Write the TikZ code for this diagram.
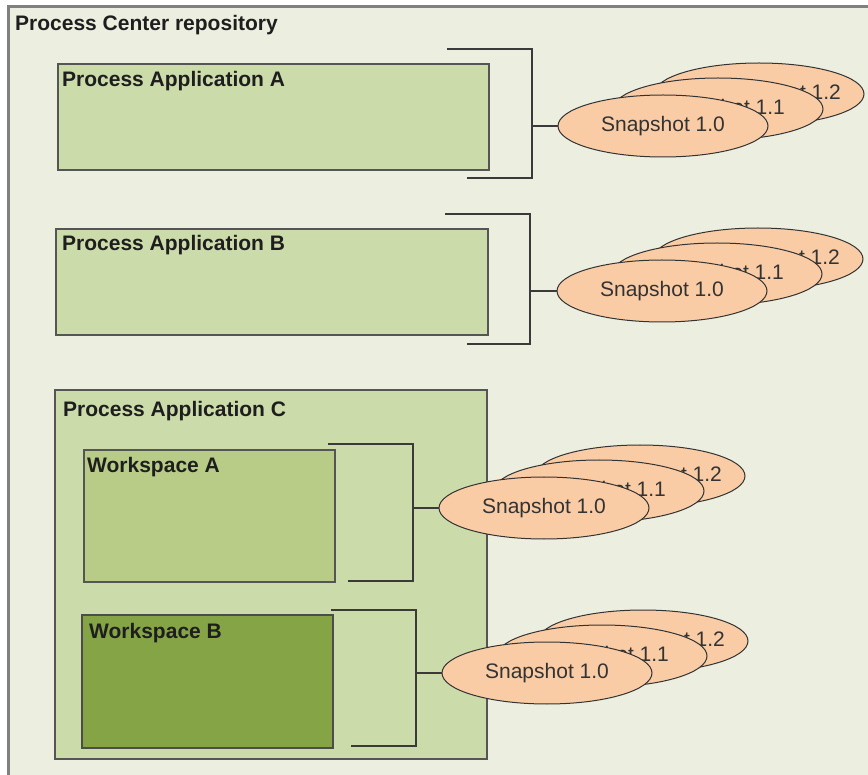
\documentclass[tikz,border=0pt]{standalone}
\usepackage{fontspec}
\setmainfont{Liberation Sans}
\usetikzlibrary{shapes.geometric}
\definecolor{bgc}{HTML}{ECEFDF}
\definecolor{pafill}{HTML}{CCDBAA}
\definecolor{wafill}{HTML}{B8CC88}
\definecolor{wbfill}{HTML}{84A445}
\definecolor{snapfill}{HTML}{F9CCA6}
\definecolor{boxline}{HTML}{555555}
\definecolor{frameline}{HTML}{808080}
\definecolor{txt}{HTML}{1E1E1E}
\definecolor{brk}{HTML}{3A3A3A}
\newcommand{\snapstack}[3]{%
  \node[snap] (#1back) at (#2+96,#3-32) {};
  \node[snaptext] (#1backt) at ([xshift=20pt]#1back.center) {Snapshot 1.2};
  \node[snap] (#1mid) at (#2+55,#3-17) {};
  \node[snaptext] (#1midt) at ([xshift=5pt]#1mid.center) {Snapshot 1.1};
  \node[snap] (#1front) at (#2,#3) {};
  \node[snaptext] (#1frontt) at (#1front.center) {Snapshot 1.0};
}
\begin{document}
\begin{tikzpicture}[x=1pt,y=-1pt,
  box/.style={draw=boxline, line width=1.6pt, anchor=north west, inner sep=0pt, rectangle},
  title/.style={anchor=base west, font=\fontsize{21}{21}\selectfont\bfseries, text=txt, inner sep=0pt},
  snap/.style={ellipse, draw=black!80, line width=1pt, fill=snapfill, minimum width=210pt, minimum height=62pt, inner sep=0pt},
  snaptext/.style={font=\fontsize{21}{21}\selectfont, text=black!80, inner sep=0pt},
  bracket/.style={draw=brk, line width=1.4pt},
]
\useasboundingbox (0,0) rectangle (868,775);
\clip (0,0) rectangle (868,775);
\fill[white] (0,0) rectangle (868,775);
\node[box, fill=bgc, draw=none, minimum width=900pt, minimum height=800pt] (repo) at (8,7) {};
\draw[frameline, line width=3pt] (repo.south west) -- (repo.north west) -- (repo.north east);
\node[title] (repot) at (15,31) {Process Center repository};

% Process Application A
\node[box, fill=pafill, minimum width=431pt, minimum height=106pt] (paA) at (57,63) {};
\node[title] (paAt) at (62,87) {Process Application A};
\coordinate (bA1) at (447,49);
\coordinate (bA2) at (532,49);
\coordinate (bA3) at (532,178);
\coordinate (bA4) at (467,178);
\draw[bracket] (bA1) -- (bA2) -- (bA3) -- (bA4);
\snapstack{A}{663}{126}
\coordinate (jA) at (532,126);
\draw[bracket] (jA) -- (Afront.west);

% Process Application B
\node[box, fill=pafill, minimum width=432pt, minimum height=106pt] (paB) at (55,228) {};
\node[title] (paBt) at (62,251) {Process Application B};
\coordinate (bB1) at (445,214);
\coordinate (bB2) at (530,214);
\coordinate (bB3) at (530,344);
\coordinate (bB4) at (467,344);
\draw[bracket] (bB1) -- (bB2) -- (bB3) -- (bB4);
\snapstack{B}{662}{291}
\coordinate (jB) at (530,291);
\draw[bracket] (jB) -- (Bfront.west);

% Process Application C
\node[box, fill=pafill, minimum width=432pt, minimum height=369pt] (paC) at (54,389) {};
\node[title] (paCt) at (63,417) {Process Application C};

% Workspace A
\node[box, fill=wafill, minimum width=251pt, minimum height=132pt] (wsA) at (83,449) {};
\node[title] (wsAt) at (87,473) {Workspace A};
\coordinate (bW1) at (328,444);
\coordinate (bW2) at (413,444);
\coordinate (bW3) at (413,581);
\coordinate (bW4) at (348,581);
\draw[bracket] (bW1) -- (bW2) -- (bW3) -- (bW4);
\snapstack{W}{544}{508}
\coordinate (jW) at (413,508);
\draw[bracket] (jW) -- (Wfront.west);

% Workspace B
\node[box, fill=wbfill, draw=black!70, minimum width=251pt, minimum height=133pt] (wsB) at (81,614) {};
\node[title] (wsBt) at (89,638) {Workspace B};
\coordinate (bV1) at (331,610);
\coordinate (bV2) at (416,610);
\coordinate (bV3) at (416,746);
\coordinate (bV4) at (351,746);
\draw[bracket] (bV1) -- (bV2) -- (bV3) -- (bV4);
\snapstack{V}{547}{673}
\coordinate (jV) at (416,673);
\draw[bracket] (jV) -- (Vfront.west);
\end{tikzpicture}
\end{document}
